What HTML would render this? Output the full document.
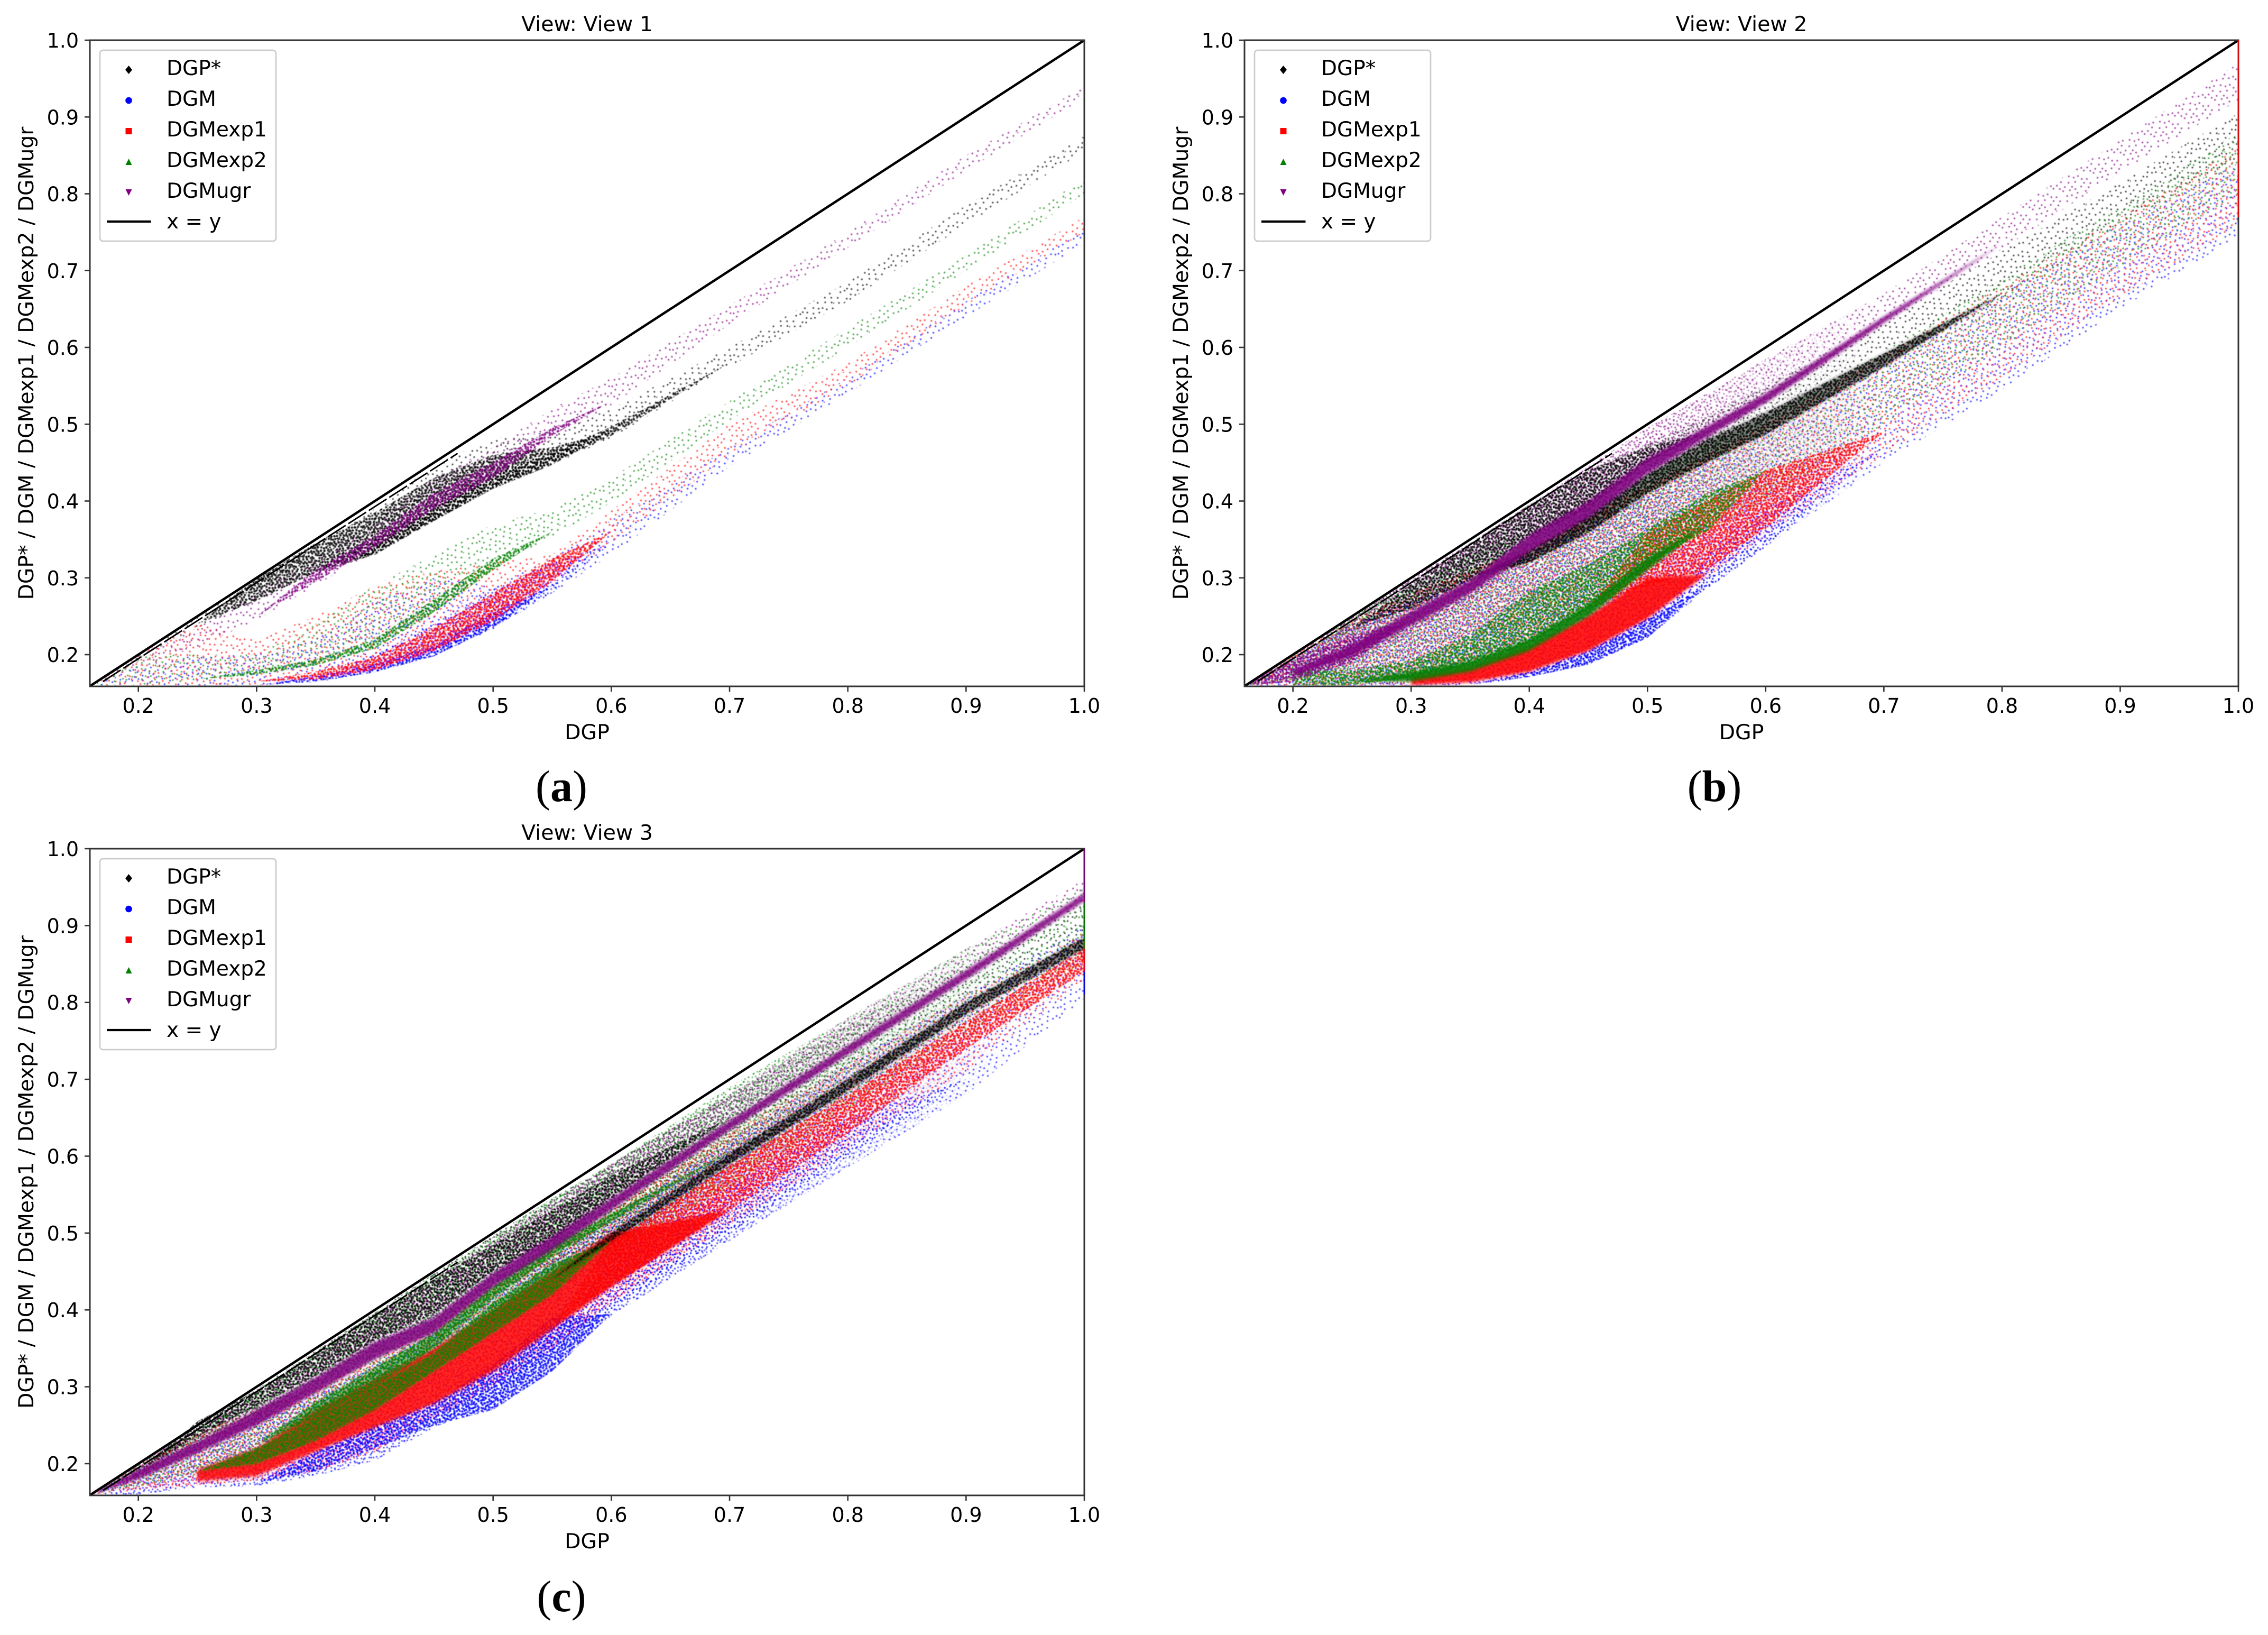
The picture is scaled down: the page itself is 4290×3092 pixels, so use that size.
<!DOCTYPE html>
<html lang="en">
<head>
<meta charset="utf-8">
<title>DGP comparison by view</title>
<style>
html,body{margin:0;padding:0;background:#fff}
svg{display:block}
text{font-family:"DejaVu Sans","Liberation Sans",sans-serif;fill:#000}
.cap{font-family:"Liberation Serif",serif}
</style>
</head>
<body>
<svg id="figure" xmlns="http://www.w3.org/2000/svg" width="4290" height="3092" viewBox="0 0 4290 3092"></svg>
<script>
// ---------- shared chart data ----------
const seriesNames = ['DGP*','DGM','DGMexp1','DGMexp2','DGMugr'];
const xGrid = [.16,.2,.25,.3,.35,.4,.45,.5,.55,.6,.7,.8,.9,1];
const xTickValues = [.2,.3,.4,.5,.6,.7,.8,.9,1];
const xTickLabels = ['0.2','0.3','0.4','0.5','0.6','0.7','0.8','0.9','1.0'];
const yTickValues = [.2,.3,.4,.5,.6,.7,.8,.9,1];
const yTickLabels = ['0.2','0.3','0.4','0.5','0.6','0.7','0.8','0.9','1.0'];
const identityX = [.159,1];
const identityY = [.159,1];
const nearDiagonalX = [.17,.47];
const nearDiagonalY = [.165,.462];
const n = null;

// ---------- View 1: envelopes read per xGrid position ----------
const aStarCloudLow  = [.16,.195,.235,.272,.307,.33,.374,.416,.447,.482,.575,.66,.76,.855];
const aStarCloudHigh = [.16,.2,.25,.295,.345,.39,.447,.482,.49,.52,.6,.685,.785,.875];
const aStarMidLow    = [n,n,.24,.27,.307,.33,.374,.416,.447,.49,n,n,n,n];
const aStarMidHigh   = [n,n,.24,.3,.345,.385,.43,.46,.47,.49,n,n,n,n];
const aStarCoreLow   = [n,n,n,n,.31,.332,.375,.418,.45,.485,.58,n,n,n];
const aStarCoreHigh  = [n,n,n,n,.31,.35,.395,.435,.462,.497,.58,n,n,n];
const aDgmCloudLow   = [.16,.16,.16,.16,.164,.177,.198,.233,.28,.33,.445,.54,.64,.735];
const aDgmCloudHigh  = [.16,.185,.2,.2,.22,.27,.3,.29,.325,.375,.47,.56,.66,.755];
const aDgmMidLow     = [n,n,n,n,.17,.18,.2,.235,.28,.345,n,n,n,n];
const aDgmMidHigh    = [n,n,n,n,.17,.2,.24,.285,.32,.345,n,n,n,n];
const aDgmCoreLow    = [n,n,n,.16,.165,.177,.198,.235,.29,n,n,n,n,n];
const aDgmCoreHigh   = [n,n,n,.16,.172,.187,.212,.255,.29,n,n,n,n,n];
const aExp1CloudLow  = [.16,.16,.16,.16,.168,.18,.205,.244,.293,.345,.46,.55,.655,.75];
const aExp1CloudHigh = [.16,.2,.24,.22,.25,.29,.31,.32,.33,.388,.5,.58,.68,.77];
const aExp1CoreLow   = [n,n,n,.165,.168,.18,.205,.244,.295,.36,n,n,n,n];
const aExp1CoreHigh  = [n,n,n,.165,.178,.197,.235,.28,.325,.36,n,n,n,n];
const aExp2CloudLow  = [.16,.16,.165,.174,.188,.212,.255,.31,.353,.398,.505,.6,.7,.8];
const aExp2CloudHigh = [.16,.2,.2,.2,.24,.29,.33,.37,.39,.43,.53,.625,.72,.82];
const aExp2CoreLow   = [n,n,.168,.174,.186,.208,.255,.31,.36,n,n,n,n,n];
const aExp2CoreHigh  = [n,n,.168,.18,.194,.22,.272,.325,.36,n,n,n,n,n];
const aUgrCloudLow   = [.16,.185,.21,.245,.29,.335,.385,.43,.48,.525,.63,.73,.83,.925];
const aUgrCloudHigh  = [.16,.2,.235,.28,.325,.37,.43,.47,.52,.56,.655,.75,.85,.94];
const aUgrCoreLow    = [n,n,n,.25,.295,.34,.39,.43,.485,.53,n,n,n,n];
const aUgrCoreHigh   = [n,n,n,.25,.31,.355,.41,.45,.495,.53,n,n,n,n];

// ---------- View 2 ----------
const bStarCloudLow  = [.16,.195,.23,.26,.295,.32,.36,.41,.45,.487,.572,.66,.76,.845];
const bStarCloudHigh = [.16,.2,.25,.298,.345,.395,.44,.475,.51,.55,.635,.725,.815,.905];
const bStarMidLow    = [n,n,.235,.26,.297,.352,.391,.45,.49,n,n,n,n,n];
const bStarMidHigh   = [n,n,.235,.292,.345,.395,.44,.47,.49,n,n,n,n,n];
const bStarCoreLow   = [n,n,n,n,.3,.32,.359,.41,.45,.487,.575,.67,n,n];
const bStarCoreHigh  = [n,n,n,n,.3,.336,.382,.435,.48,.515,.592,.67,n,n];
const bDgmCloudLow   = [.16,.16,.16,.16,.16,.171,.187,.222,.285,.34,.45,.545,.65,.745];
const bDgmCloudHigh  = [.16,.195,.24,.27,.3,.33,.37,.41,.45,.49,.58,.67,.76,.84];
const bDgmMidLow     = [n,n,n,n,n,n,n,.24,.285,.34,.47,n,n,n];
const bDgmMidHigh    = [n,n,n,n,n,n,n,.24,.33,.39,.47,n,n,n];
const bDgmCoreLow    = [n,n,n,n,.161,.171,.187,.222,.29,n,n,n,n,n];
const bDgmCoreHigh   = [n,n,n,n,.161,.178,.205,.247,.29,n,n,n,n,n];
const bExp1CloudLow  = [.16,.16,.16,.16,.164,.178,.205,.247,.3,.355,.46,.56,.665,.76];
const bExp1CloudHigh = [.16,.2,.245,.28,.31,.34,.38,.42,.46,.5,.59,.68,.77,.86];
const bExp1MidLow    = [n,n,n,n,n,n,.26,.29,.31,.365,.49,n,n,n];
const bExp1MidHigh   = [n,n,n,n,n,n,.26,.36,.4,.44,.49,n,n,n];
const bExp1CoreLow   = [n,n,n,.16,.164,.178,.205,.247,.305,n,n,n,n,n];
const bExp1CoreHigh  = [n,n,n,.171,.183,.21,.251,.3,.305,n,n,n,n,n];
const bExp2CloudLow  = [.16,.165,.165,.165,.178,.205,.25,.31,.36,.4,.5,.6,.705,.8];
const bExp2CloudHigh = [.16,.2,.25,.29,.33,.36,.395,.435,.475,.51,.595,.69,.785,.88];
const bExp2MidLow    = [n,.16,.16,.171,.187,.215,.26,.318,.36,.44,n,n,n,n];
const bExp2MidHigh   = [n,.18,.18,.192,.226,.283,.318,.364,.41,.44,n,n,n,n];
const bExp2CoreLow   = [n,n,.165,.165,.178,.205,.25,.31,.37,n,n,n,n,n];
const bExp2CoreHigh  = [n,n,.165,.178,.192,.22,.266,.326,.37,n,n,n,n,n];
const bUgrCloudLow   = [.16,.17,.19,.23,.27,.325,.37,.43,.48,.528,.628,.728,.828,.922];
const bUgrCloudHigh  = [.16,.2,.25,.3,.345,.395,.445,.495,.54,.585,.67,.77,.87,.97];
const bUgrMidLow     = [.16,.165,.19,.245,n,n,n,n,n,n,n,n,n,n];
const bUgrMidHigh    = [.16,.195,.225,.245,n,n,n,n,n,n,n,n,n,n];
const bUgrCoreLow    = [n,.172,.198,.238,.28,.334,.378,.436,.483,.528,.632,.735,n,n];
const bUgrCoreHigh   = [n,.18,.213,.256,.297,.356,.4,.456,.497,.54,.64,.735,n,n];
const bEdgeExp1      = [.77,1];

// ---------- View 3 ----------
const cStarCloudLow  = [.16,.185,.225,.26,.3,.34,.38,.42,.46,.48,.585,.68,.775,.86];
const cStarCloudHigh = [.16,.2,.248,.297,.347,.397,.447,.497,.545,.59,.68,.77,.85,.93];
const cStarMidLow    = [n,.19,.235,.275,.315,.36,.395,.45,.49,.545,.65,n,n,n];
const cStarMidHigh   = [n,.19,.255,.295,.345,.395,.44,.485,.53,.575,.65,n,n,n];
const cStarCoreLow   = [n,n,n,n,n,n,n,n,.44,.49,.59,.685,.785,.87];
const cStarCoreHigh  = [n,n,n,n,n,n,n,n,.44,.5,.604,.7,.8,.885];
const cDgmCloudLow   = [.16,.16,.169,.171,.184,.204,.247,.278,.337,.392,.49,.585,.68,.805];
const cDgmCloudHigh  = [.16,.195,.23,.26,.29,.33,.37,.42,.47,.52,.62,.72,.81,.9];
const cDgmMidLow     = [n,n,n,n,n,n,n,n,.36,.4,.5,.6,.7,n];
const cDgmMidHigh    = [n,n,n,n,n,n,n,n,.36,.47,.56,.65,.7,n];
const cDgmCoreLow    = [n,n,n,.175,.19,.22,.25,.27,.32,.395,n,n,n,n];
const cDgmCoreHigh   = [n,n,n,.175,.216,.25,.28,.33,.39,.395,n,n,n,n];
const cExp1CloudLow  = [.16,.165,.172,.178,.19,.215,.26,.3,.35,.41,.51,.61,.71,.83];
const cExp1CloudHigh = [.16,.2,.24,.27,.3,.335,.38,.43,.48,.53,.63,.72,.81,.89];
const cExp1MidLow    = [n,n,n,n,n,n,n,n,.38,.43,.53,.63,.74,.84];
const cExp1MidHigh   = [n,n,n,n,n,n,n,n,.38,.49,.588,.68,.775,.87];
const cExp1CoreLow   = [n,n,.177,.184,.216,.247,.278,.32,.375,.43,.53,n,n,n];
const cExp1CoreHigh  = [n,n,.192,.22,.27,.31,.35,.4,.45,.5,.53,n,n,n];
const cExp2CloudLow  = [.16,.17,.185,.21,.24,.28,.325,.37,.42,.47,.56,.66,.76,.85];
const cExp2CloudHigh = [.16,.2,.245,.295,.345,.395,.445,.495,.545,.59,.69,.78,.87,.95];
const cExp2MidLow    = [n,n,.19,.2,.23,.27,.32,.37,.42,.49,n,n,n,n];
const cExp2MidHigh   = [n,n,.19,.22,.26,.3,.344,.41,.46,.49,n,n,n,n];
const cExp2CoreLow   = [n,n,n,.225,.26,.3,.35,.415,.47,.515,.605,n,n,n];
const cExp2CoreHigh  = [n,n,n,.225,.28,.325,.37,.431,.485,.525,.605,n,n,n];
const cUgrCloudLow   = [.16,.18,.215,.25,.293,.336,.37,.43,.478,.53,.632,.73,.828,.93];
const cUgrCloudHigh  = [.16,.2,.245,.29,.34,.39,.44,.49,.54,.59,.68,.78,.87,.96];
const cUgrCoreLow    = [.16,.18,.214,.25,.292,.336,.37,.43,.478,.53,.634,.732,.83,.932];
const cUgrCoreHigh   = [.16,.192,.228,.27,.312,.358,.39,.448,.496,.545,.646,.744,.842,.942];
const cEdgeUgr       = [.93,1];
const cEdgeExp2      = [.87,.93];
const cEdgeExp1      = [.84,.88];
const cEdgeDgm       = [.81,.85];

// ---------- presentation ----------
const SVGNS = 'http://www.w3.org/2000/svg';
const svg = document.getElementById('figure');
const seriesKeys = ['star','dgm','exp1','exp2','ugr'];
const seriesColors = ['#000000','#0000ff','#ff0000','#008000','#800080'];
const textureOffsets = [[3,5],[17,2],[29,9],[9,14],[23,17],[35,21],[5,26],[15,31],[28,27],[37,36],[12,8],[33,3],[1,18],[20,24],[8,35],
 [25,34],[31,14],[14,20],[6,10],[19,11],[27,4],[38,12],[11,27],[22,30],[34,28],[2,32],[16,37],[30,21],[7,21],[24,9],
 [13,3],[36,7],[18,16],[4,38],[26,23],[10,32],[32,33],[21,36],[39,25],[0,12]];
const tileAngles = [17,41,73,29,59];

function make(tag, attrs, parent){
  const el = document.createElementNS(SVGNS, tag);
  for (const k in attrs) el.setAttribute(k, attrs[k]);
  if (parent) parent.appendChild(el);
  return el;
}
const defs = make('defs', {}, svg);
const softEdge = make('filter', {id:'soft-edge', x:'-5%', y:'-5%', width:'110%', height:'110%'}, defs);
make('feGaussianBlur', {stdDeviation:3}, softEdge);
const softDots = make('filter', {id:'soft-dots', x:'0', y:'0', width:'100%', height:'100%'}, defs);
make('feGaussianBlur', {stdDeviation:.7}, softDots);

// texture tiles: [name, tile size, dot radius, dot opacity, extra rotation]
const textureLayers = [['wide',67,1.6,.75,0],['mid',47,1.6,.7,23],['tight',37,2.2,.85,47]];
seriesKeys.forEach(function(key, i){
  textureLayers.forEach(function(d){
    const t = d[1];
    const p = make('pattern', {id:'tex-'+key+'-'+d[0], width:t, height:t, patternUnits:'userSpaceOnUse', patternTransform:'rotate('+(tileAngles[i]+d[4])+')'}, defs);
    textureOffsets.forEach(function(o){
      make('circle', {cx:(o[0]*t/40).toFixed(1), cy:(o[1]*t/40).toFixed(1), r:d[2], fill:seriesColors[i], 'fill-opacity':d[3]}, p);
    });
  });
});
const densityLayers = {sparse:['wide'], medium:['wide','mid'], dense:['wide','mid','tight']};

const panels = [
 {id:'a', title:'View: View 1', caption:'a', capX:1062, capY:1515, l:170, r:2051, t:76, b:1298, fade:null, coreOpacity:.9, edges:[],
  clouds:[[aStarCloudLow,aStarCloudHigh],[aDgmCloudLow,aDgmCloudHigh],[aExp1CloudLow,aExp1CloudHigh],[aExp2CloudLow,aExp2CloudHigh],[aUgrCloudLow,aUgrCloudHigh]],
  layers:[[0,aStarMidLow,aStarMidHigh,'dense'],[1,aDgmMidLow,aDgmMidHigh,'medium'],[1,aDgmCoreLow,aDgmCoreHigh,'dense'],[2,aExp1CoreLow,aExp1CoreHigh,'dense'],
          [3,aExp2CoreLow,aExp2CoreHigh,'dense'],[0,aStarCoreLow,aStarCoreHigh,'dense'],[4,aUgrCoreLow,aUgrCoreHigh,'dense']]},
 {id:'b', title:'View: View 2', caption:'b', capX:3243, capY:1515, l:2354, r:4234, t:76, b:1298, fade:[.5,.7], coreOpacity:.88, edges:[[2,bEdgeExp1]],
  clouds:[[bStarCloudLow,bStarCloudHigh],[bDgmCloudLow,bDgmCloudHigh],[bExp1CloudLow,bExp1CloudHigh],[bExp2CloudLow,bExp2CloudHigh],[bUgrCloudLow,bUgrCloudHigh]],
  layers:[[1,bDgmMidLow,bDgmMidHigh,'medium'],[2,bExp1MidLow,bExp1MidHigh,'dense'],[3,bExp2MidLow,bExp2MidHigh,'dense'],[4,bUgrMidLow,bUgrMidHigh,'dense'],
          [0,bStarMidLow,bStarMidHigh,'dense'],[1,bDgmCoreLow,bDgmCoreHigh,'dense'],[2,bExp1CoreLow,bExp1CoreHigh,'solid'],[3,bExp2CoreLow,bExp2CoreHigh,'solid'],
          [0,bStarCoreLow,bStarCoreHigh,'mixed'],[4,bUgrCoreLow,bUgrCoreHigh,'solid']]},
 {id:'c', title:'View: View 3', caption:'c', capX:1062, capY:3047, l:170, r:2051, t:1605, b:2828, fade:[.65,.95], coreOpacity:.85, edges:[[1,cEdgeDgm],[2,cEdgeExp1],[3,cEdgeExp2],[4,cEdgeUgr]],
  clouds:[[cStarCloudLow,cStarCloudHigh],[cDgmCloudLow,cDgmCloudHigh],[cExp1CloudLow,cExp1CloudHigh],[cExp2CloudLow,cExp2CloudHigh],[cUgrCloudLow,cUgrCloudHigh]],
  layers:[[1,cDgmMidLow,cDgmMidHigh,'medium'],[2,cExp1MidLow,cExp1MidHigh,'dense'],[0,cStarMidLow,cStarMidHigh,'dense'],[1,cDgmCoreLow,cDgmCoreHigh,'dense'],[2,cExp1CoreLow,cExp1CoreHigh,'solid'],
          [3,cExp2MidLow,cExp2MidHigh,'mixed'],[3,cExp2CoreLow,cExp2CoreHigh,'mixed'],[0,cStarCoreLow,cStarCoreHigh,'mixed'],[4,cUgrCoreLow,cUgrCoreHigh,'solid']]}
];

const X_MIN = .159, X_MAX = 1, Y_MIN = .1587, Y_MAX = 1;

function bandPath(lows, highs, sx, sy){
  let upper = [], lower = [];
  xGrid.forEach(function(x, i){
    if (lows[i] === null || highs[i] === null) return;
    upper.push(sx(x).toFixed(1)+','+sy(highs[i]).toFixed(1));
    lower.unshift(sx(x).toFixed(1)+','+sy(lows[i]).toFixed(1));
  });
  return upper.concat(lower).join(' ');
}

function drawSolid(points, seriesIndex, opacity, parent){
  const el = make('polygon', {points:points, fill:seriesColors[seriesIndex], 'fill-opacity':opacity, filter:'url(#soft-edge)'}, parent);
  
  
}
function drawTexture(points, seriesIndex, mode, parent){
  densityLayers[mode].forEach(function(layer){
    const el = make('polygon', {points:points, fill:'url(#tex-'+seriesKeys[seriesIndex]+'-'+layer+')'}, parent);
    
    
  });
}
function drawBand(points, seriesIndex, mode, opacity, parent){
  if (mode === 'solid') { drawSolid(points, seriesIndex, opacity, parent); return; }
  if (mode === 'mixed') { drawSolid(points, seriesIndex, .45, parent); drawTexture(points, seriesIndex, 'dense', parent); return; }
  drawTexture(points, seriesIndex, mode, parent);
}

function drawMarker(kind, cx, cy, color, parent){
  const s = 6;
  let pts;
  if (kind === 0) pts = [[cx,cy-8],[cx+6.5,cy],[cx,cy+8],[cx-6.5,cy]];
  else if (kind === 2) pts = [[cx-s,cy-s],[cx+s,cy-s],[cx+s,cy+s],[cx-s,cy+s]];
  else if (kind === 3) pts = [[cx,cy-s],[cx+s,cy+s],[cx-s,cy+s]];
  else if (kind === 4) pts = [[cx-s,cy-s],[cx+s,cy-s],[cx,cy+s]];
  if (kind === 1) return make('circle', {cx:cx, cy:cy, r:6.3, fill:color}, parent);
  return make('polygon', {points:pts.map(function(p){return p.join(',');}).join(' '), fill:color}, parent);
}

panels.forEach(function(P){
  const sx = function(v){ return P.l + (v - X_MIN) / (X_MAX - X_MIN) * (P.r - P.l); };
  const sy = function(v){ return P.b - (v - Y_MIN) / (Y_MAX - Y_MIN) * (P.b - P.t); };

  const g = make('g', {}, svg);
  
  

  const clip = make('clipPath', {id:'clip-'+P.id}, defs);
  make('rect', {x:P.l, y:P.t, width:P.r-P.l, height:P.b-P.t}, clip);
  const plot = make('g', {'clip-path':'url(#clip-'+P.id+')'}, g);
  
  

  const marks = make('g', {filter:'url(#soft-dots)'}, plot);
  const wideClouds = make('g', {}, marks);
  const extraClouds = make('g', {}, marks);
  if (P.fade) {
    const grad = make('linearGradient', {id:'fade-grad-'+P.id, gradientUnits:'userSpaceOnUse', x1:sx(P.fade[0]), x2:sx(P.fade[1]), y1:0, y2:0}, defs);
    make('stop', {offset:0, 'stop-color':'#fff'}, grad);
    make('stop', {offset:1, 'stop-color':'#000'}, grad);
    const mask = make('mask', {id:'fade-'+P.id, maskUnits:'userSpaceOnUse', x:P.l, y:P.t, width:P.r-P.l, height:P.b-P.t}, defs);
    make('rect', {x:P.l, y:P.t, width:P.r-P.l, height:P.b-P.t, fill:'url(#fade-grad-'+P.id+')'}, mask);
    extraClouds.setAttribute('mask', 'url(#fade-'+P.id+')');
  }
  P.clouds.forEach(function(band, i){
    const pts = bandPath(band[0], band[1], sx, sy);
    drawTexture(pts, i, 'sparse', wideClouds);
    if (P.fade) {
      const extra = make('polygon', {points:pts, fill:'url(#tex-'+seriesKeys[i]+'-mid)'}, extraClouds);
      
      
    }
  });
  P.layers.forEach(function(L){
    drawBand(bandPath(L[1], L[2], sx, sy), L[0], L[3], P.coreOpacity, marks);
  });

  const edge = make('line', {x1:sx(nearDiagonalX[0]), y1:sy(nearDiagonalY[0]), x2:sx(nearDiagonalX[1]), y2:sy(nearDiagonalY[1]), stroke:'#000', 'stroke-width':2.8, 'stroke-dasharray':'40 6'}, plot);
  
  

  const ref = make('line', {x1:sx(identityX[0]), y1:sy(identityY[0]), x2:sx(identityX[1]), y2:sy(identityY[1]), stroke:'#000', 'stroke-width':4.6}, plot);
  
  

  const frame = make('rect', {x:P.l, y:P.t, width:P.r-P.l, height:P.b-P.t, fill:'none', stroke:'#333', 'stroke-width':3}, g);
  
  

  P.edges.forEach(function(E){
    const col = make('line', {x1:P.r, x2:P.r, y1:sy(E[1][0]), y2:sy(E[1][1]), stroke:seriesColors[E[0]], 'stroke-width':3, 'stroke-opacity':.8}, g);
    
    
  });

  xTickValues.forEach(function(v, i){
    const tick = make('line', {x1:sx(v), x2:sx(v), y1:P.b, y2:P.b+10, stroke:'#333', 'stroke-width':2.6}, g);
    
    
    const label = make('text', {x:sx(v), y:P.b+50, 'text-anchor':'middle', 'font-size':38}, g);
    label.textContent = xTickLabels[i];
    
    
  });
  yTickValues.forEach(function(v, i){
    const tick = make('line', {x1:P.l-10, x2:P.l, y1:sy(v), y2:sy(v), stroke:'#333', 'stroke-width':2.6}, g);
    
    
    const label = make('text', {x:P.l-21, y:sy(v)+14, 'text-anchor':'end', 'font-size':38}, g);
    label.textContent = yTickLabels[i];
    
    
  });

  const title = make('text', {x:(P.l+P.r)/2, y:P.t-17, 'text-anchor':'middle', 'font-size':39.5}, g);
  title.textContent = P.title;
  
  

  const xAxisTitle = make('text', {x:(P.l+P.r)/2, y:P.b+100, 'text-anchor':'middle', 'font-size':39.5}, g);
  xAxisTitle.textContent = 'DGP';
  
  

  const yc = (P.t+P.b)/2;
  const yx = P.l-107;
  const yAxisTitle = make('text', {x:yx, y:yc, 'text-anchor':'middle', 'font-size':39.3, transform:'rotate(-90 '+yx+' '+yc+')'}, g);
  yAxisTitle.textContent = seriesNames.join(' / ');
  
  

  const legend = make('g', {}, g);
  
  
  const lx = P.l+19, ly = P.t+19;
  const box = make('rect', {x:lx, y:ly, width:333, height:361, rx:6, ry:6, fill:'#fff', 'fill-opacity':.9, stroke:'#ccc', 'stroke-width':2.7}, legend);
  
  
  seriesNames.forEach(function(name, i){
    const m = drawMarker(i, lx+54.5, ly+37+58*i, seriesColors[i], legend);
    
    
    const t = make('text', {x:lx+126, y:ly+47+58*i, 'font-size':39}, legend);
    t.textContent = name;
    
    
  });
  const keyLine = make('line', {x1:lx+13, x2:lx+96.5, y1:ly+324, y2:ly+324, stroke:'#000', 'stroke-width':4.2}, legend);
  
  
  const keyText = make('text', {x:lx+126, y:ly+337, 'font-size':39}, legend);
  keyText.textContent = 'x = y';
  
  

  const cap = make('text', {x:P.capX, y:P.capY, 'text-anchor':'middle', 'font-size':84, 'class':'cap'}, g);
  
  
  cap.appendChild(document.createTextNode('('));
  const capBold = make('tspan', {'font-weight':'bold'}, cap);
  capBold.textContent = P.caption;
  cap.appendChild(document.createTextNode(')'));
});
</script>
</body>
</html>
